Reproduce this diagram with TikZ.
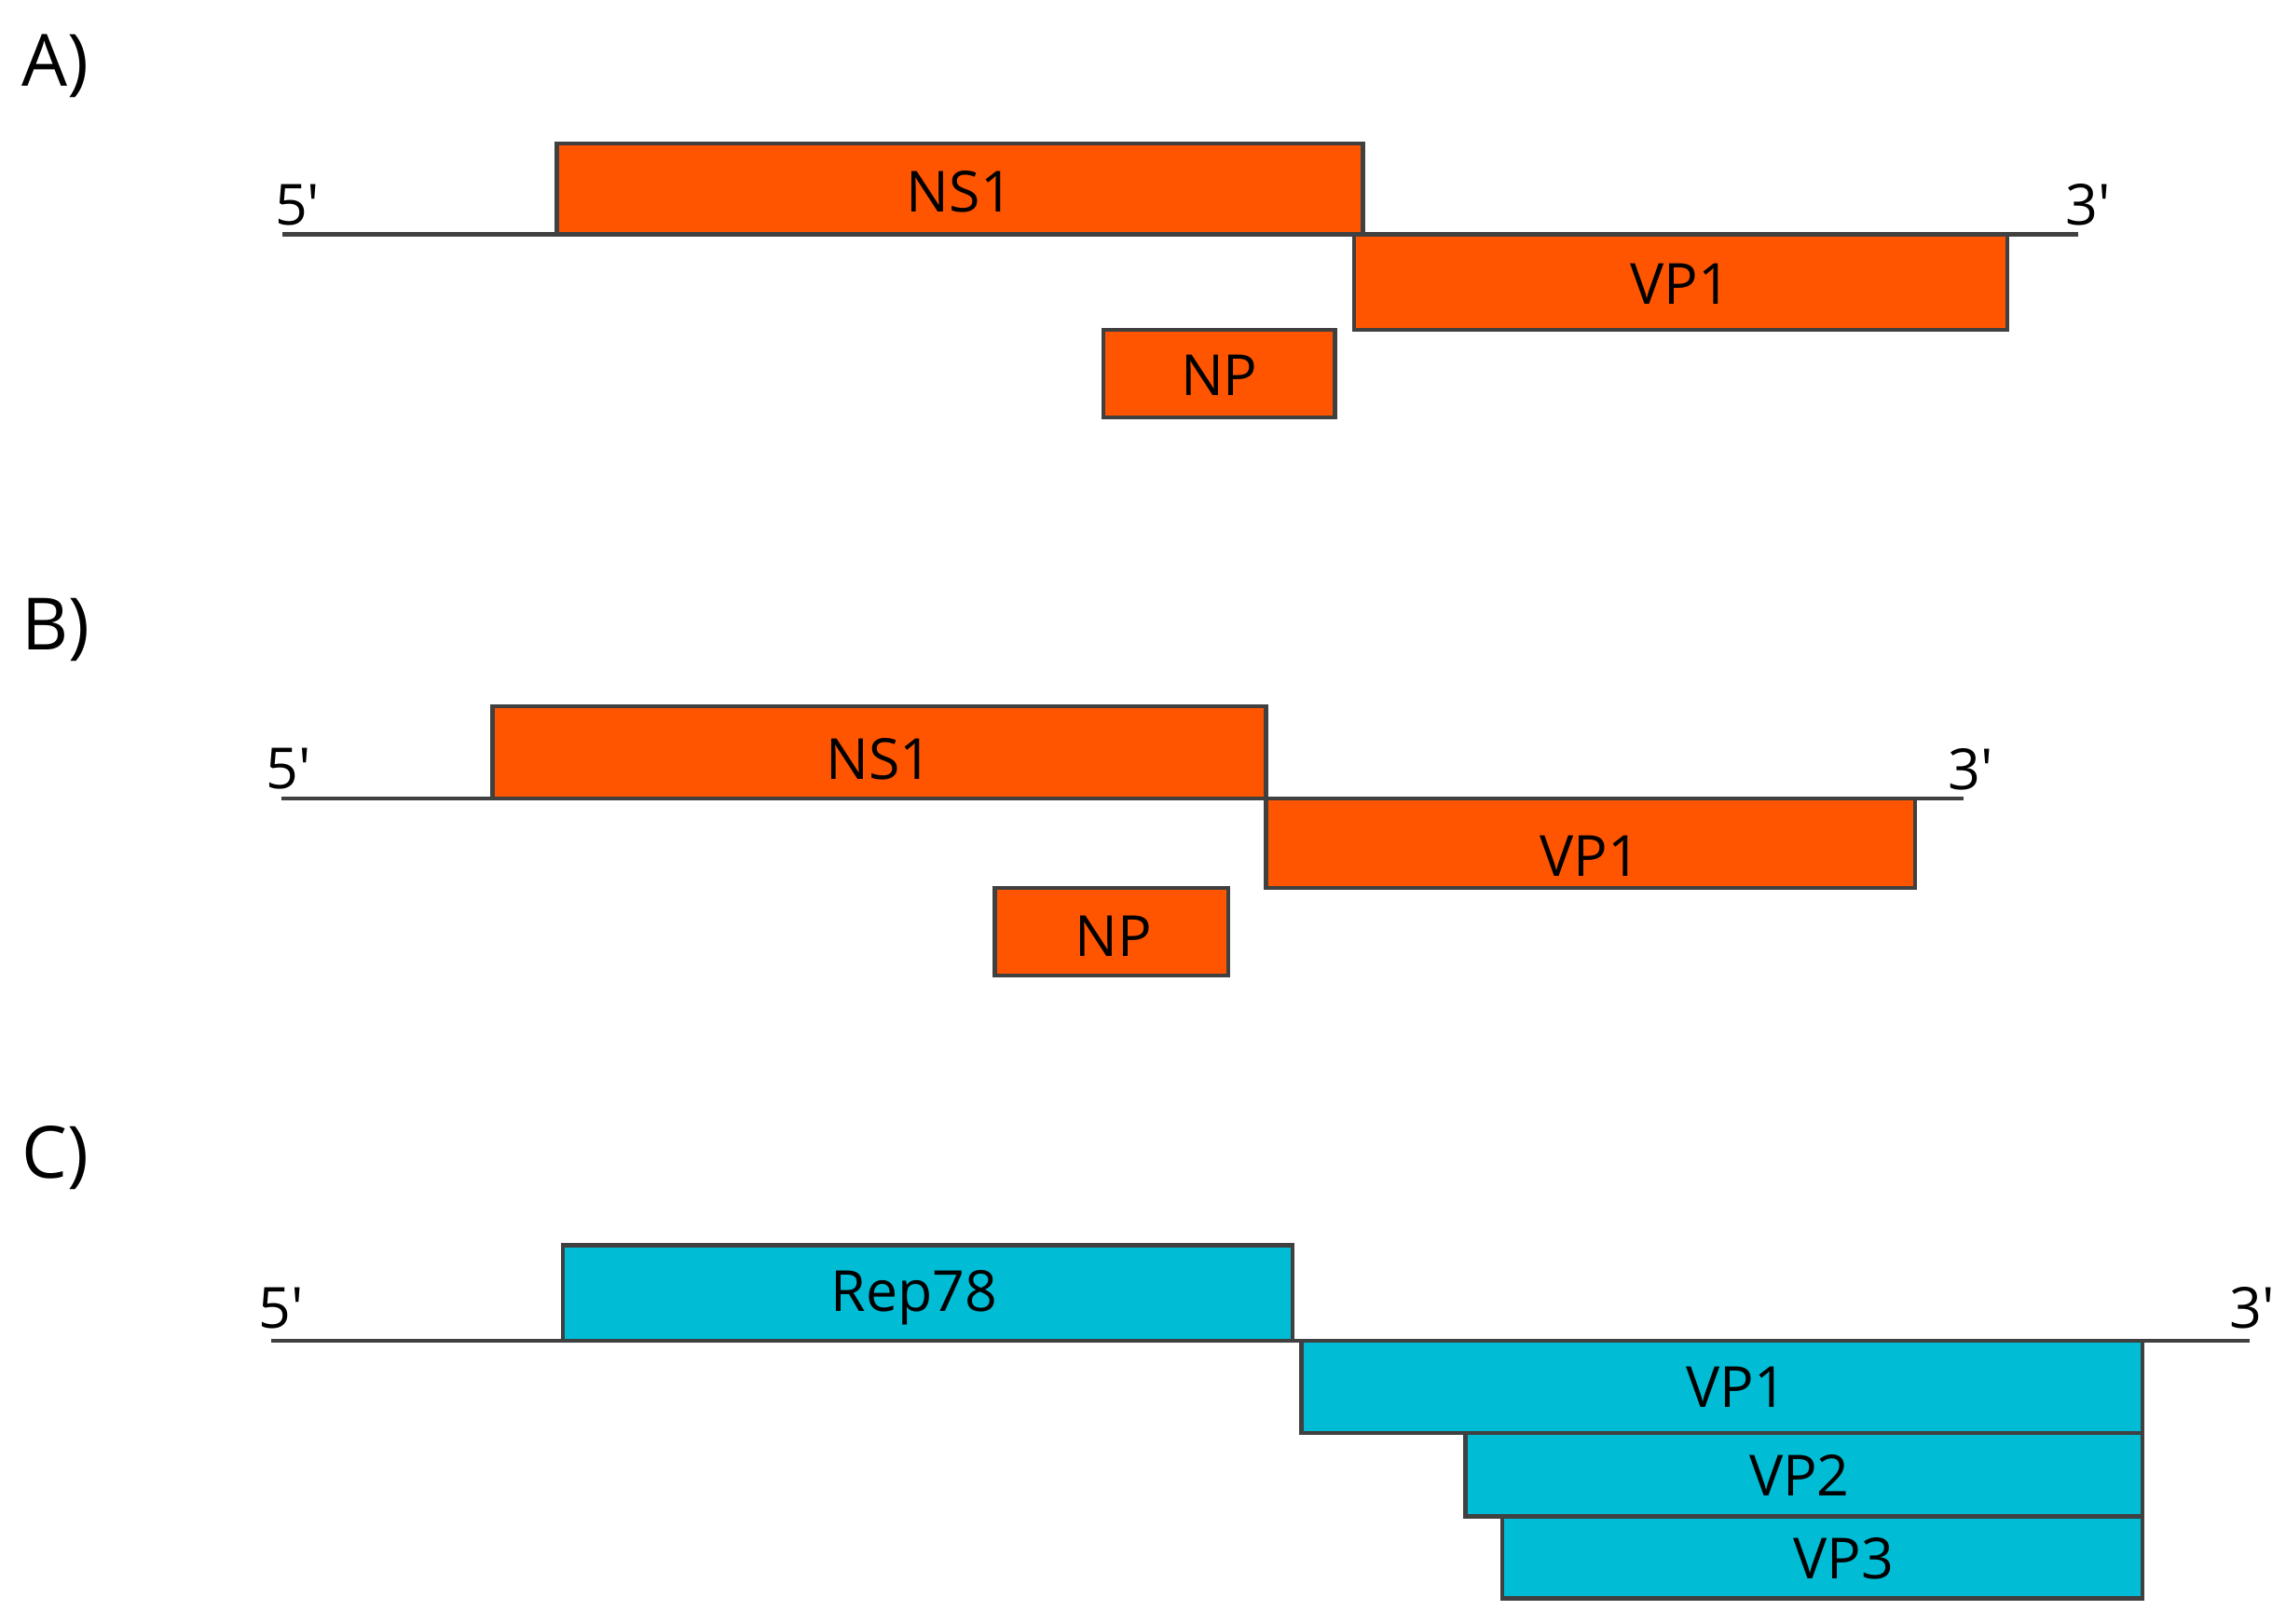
\documentclass[tikz,border=0pt]{standalone}
\usepackage{fontspec}
\setmainfont{Open Sans}
\definecolor{orng}{RGB}{255,85,0}
\definecolor{cyn}{RGB}{0,188,212}
\begin{document}
\begin{tikzpicture}[x=0.01cm,y=-0.01cm,
 gene/.style={draw=black!75,line width=0.8pt,minimum height=0pt},
 lab/.style={font=\fontsize{11}{13}\selectfont},
 end/.style={font=\fontsize{11}{13}\selectfont},
 panel/.style={font=\fontsize{14}{16}\selectfont},
 dna/.style={line width=0.8pt,black!75}]
\useasboundingbox (0,0) rectangle (1560,1108);
% A
\node[panel] (pA) at (38,45) {A)};
\coordinate (a5) at (193,160); \coordinate (a3) at (1418,160);
\draw[dna] (a5) -- (a3);
\node[end] (a5l) at (203,140) {5′}; \node[end] (a3l) at (1425,140) {3′};
\draw[gene,fill=orng] (380,98) rectangle (930,160); \node[lab] (ans1) at (655,131) {NS1};
\draw[gene,fill=orng] (924,160) rectangle (1370,225); \node[lab] (avp1) at (1147,194) {VP1};
\draw[gene,fill=orng] (753,225) rectangle (911,285); \node[lab] (anp) at (832,256) {NP};
% B
\node[panel] (pB) at (38,430) {B)};
\coordinate (b5) at (192,545); \coordinate (b3) at (1340,545);
\draw[dna] (b5) -- (b3);
\node[end] (b5l) at (197,525) {5′}; \node[end] (b3l) at (1345,525) {3′};
\draw[gene,fill=orng] (336,482) rectangle (864,545); \node[lab] (bns1) at (600,518) {NS1};
\draw[gene,fill=orng] (864,545) rectangle (1307,606); \node[lab] (bvp1) at (1085,584) {VP1};
\draw[gene,fill=orng] (679,606) rectangle (838,666); \node[lab] (bnp) at (760,639) {NP};
% C
\node[panel] (pC) at (38,790) {C)};
\coordinate (c5) at (185,915); \coordinate (c3) at (1535,915);
\draw[dna] (c5) -- (c3);
\node[end] (c5l) at (192,893) {5′}; \node[end] (c3l) at (1537,893) {3′};
\draw[gene,fill=cyn] (384,850) rectangle (882,915); \node[lab] (crep) at (624,886) {Rep78};
\draw[gene,fill=cyn] (888,915) rectangle (1462,978); \node[lab] (cvp1) at (1185,947) {VP1};
\draw[gene,fill=cyn] (1000,978) rectangle (1462,1035); \node[lab] (cvp2) at (1228,1007) {VP2};
\draw[gene,fill=cyn] (1025,1035) rectangle (1462,1091); \node[lab] (cvp3) at (1258,1064) {VP3};
\end{tikzpicture}
\end{document}
